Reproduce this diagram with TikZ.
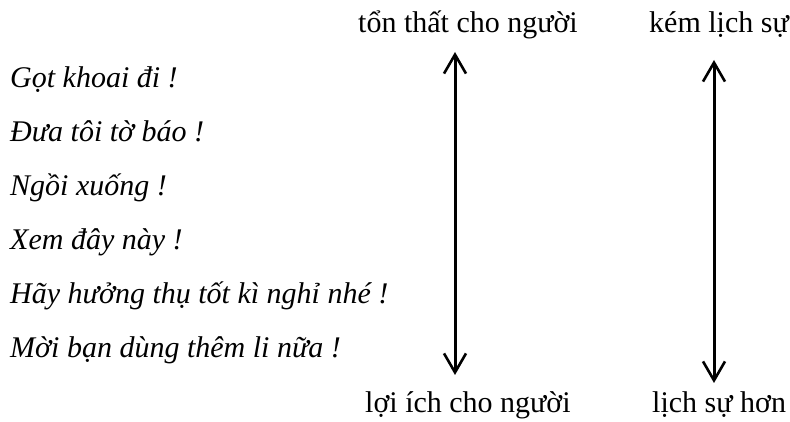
\documentclass[tikz,border=0pt]{standalone}
\usepackage{fontspec}
\setmainfont{Liberation Serif}
\usetikzlibrary{arrows.meta}
\tikzset{
  sentence/.style={anchor=base west, inner sep=0pt, font=\fontsize{30}{36}\selectfont\itshape},
  pole/.style={anchor=base west, inner sep=0pt, font=\fontsize{30}{36}\selectfont},
  scale arrow/.style={line width=3pt, {Straight Barb[length=19pt,width=22pt,line width=2.6pt]}-{Straight Barb[length=19pt,width=22pt,line width=2.6pt]}}
}
\begin{document}
\begin{tikzpicture}[x=1pt,y=1pt]
\useasboundingbox (0,0) rectangle (790,422);
% sentences
\node[sentence] (s1) at (10,334) {Gọt khoai đi !};
\node[sentence] (s2) at (10,280) {Đưa tôi tờ báo !};
\node[sentence] (s3) at (10,226) {Ngồi xuống !};
\node[sentence] (s4) at (10,172) {Xem đây này !};
\node[sentence] (s5) at (10,118) {Hãy hưởng thụ tốt kì nghỉ nhé !};
\node[sentence] (s6) at (10,64) {Mời bạn dùng thêm li nữa !};
% pole labels
\node[pole] (t1) at (358,389) {tổn thất cho người};
\node[pole] (t2) at (649,389) {kém lịch sự};
\node[pole] (b1) at (365,9) {lợi ích cho người};
\node[pole] (b2) at (652,9) {lịch sự hơn};
% arrow ends
\coordinate (a1t) at (455,370);
\coordinate (a1b) at (455,47);
\coordinate (a2t) at (714,362);
\coordinate (a2b) at (714,39);
\draw[scale arrow] (a1t) -- (a1b);
\draw[scale arrow] (a2t) -- (a2b);
\end{tikzpicture}
\end{document}
